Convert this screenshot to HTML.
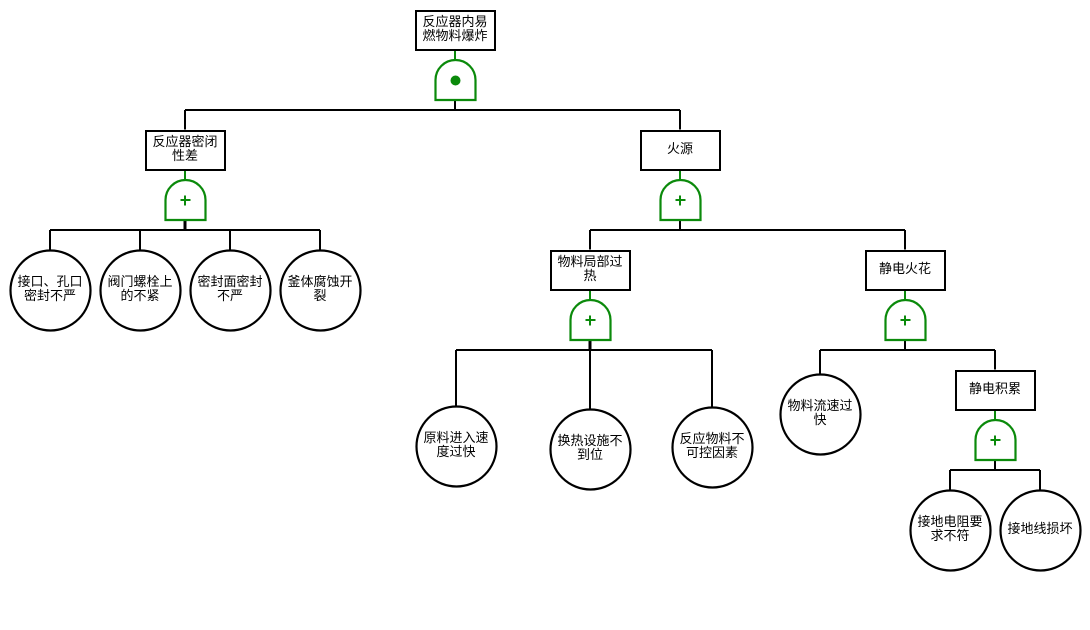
<!DOCTYPE html>
<html lang="zh">
<head>
<meta charset="utf-8">
<style>
html,body{margin:0;padding:0;background:#fff;width:1090px;height:630px;overflow:hidden}
svg{display:block}
text{font-family:"Liberation Sans","WenQuanYi Zen Hei","Noto Sans CJK SC",sans-serif;font-size:13px;fill:#000;text-anchor:middle}
.k{fill:none;stroke:#000;stroke-width:2}
.b{fill:#fff;stroke:#000;stroke-width:2}
.n{fill:#fff;stroke:#000;stroke-width:2.2}
.g{fill:#fff;stroke:#0b8a0b;stroke-width:2.2}
.l{fill:none;stroke:#0b8a0b;stroke-width:2}
.p{fill:none;stroke:#0b8a0b;stroke-width:2}
</style>
</head>
<body>
<svg width="1090" height="630" viewBox="0 0 1090 630" xmlns="http://www.w3.org/2000/svg">
<!-- black connectors -->
<g transform="translate(-0.5,-0.5)">
<path class="k" d="M455.5 100V110.5M185.5 110.5H680.5M185.5 110.5V130M680.5 110.5V130"/>
<path class="k" d="M185.5 220V230.5M50.5 230.5H320.5M50.5 230.5V250M140.5 230.5V250M230.5 230.5V250M320.5 230.5V250"/>
<path class="k" d="M680.5 220V230.5M590.5 230.5H905.5M590.5 230.5V250M905.5 230.5V250"/>
<path class="k" d="M590.5 340V410M456.5 350.5H712.5M456.5 350.5V407M712.5 350.5V407"/>
<path class="k" d="M905.5 340V350.5M820.5 350.5H995.5M820.5 350.5V375M995.5 350.5V370"/>
<path class="k" d="M995.5 460V470.5M950.5 470.5H1040.5M950.5 470.5V490M1040.5 470.5V490"/>
<path d="M185.5 220V230" stroke="#000" stroke-width="3" fill="none"/>
<path d="M590.5 340V350" stroke="#000" stroke-width="3" fill="none"/>
<!-- green connectors -->
<path class="l" d="M455.5 50V60M185.5 170V180M680.5 170V180M590.5 290V300M905.5 290V300M995.5 410V420"/>
</g>
<!-- gates -->
<path class="g" d="M435.5 100V80A20 20 0 0 1 475.5 80V100Z"/>
<circle cx="455.5" cy="80.5" r="5" fill="#0b8a0b"/>
<path class="g" d="M165.5 220V200A20 20 0 0 1 205.5 200V220Z"/>
<path class="p" d="M180.5 200H190.5M185 195.5V205.5"/>
<path class="g" d="M660.5 220V200A20 20 0 0 1 700.5 200V220Z"/>
<path class="p" d="M675.5 200H685.5M680 195.5V205.5"/>
<path class="g" d="M570.5 340V320A20 20 0 0 1 610.5 320V340Z"/>
<path class="p" d="M585.5 320H595.5M590 315.5V325.5"/>
<path class="g" d="M885.5 340V320A20 20 0 0 1 925.5 320V340Z"/>
<path class="p" d="M900.5 320H910.5M905 315.5V325.5"/>
<path class="g" d="M975.5 460V440A20 20 0 0 1 1015.5 440V460Z"/>
<path class="p" d="M990.5 440H1000.5M995 435.5V445.5"/>
<!-- boxes -->
<rect class="b" x="416" y="11" width="79" height="39"/>
<rect class="b" x="146" y="131" width="79" height="39"/>
<rect class="b" x="641" y="131" width="79" height="39"/>
<rect class="b" x="551" y="251" width="79" height="39"/>
<rect class="b" x="866" y="251" width="79" height="39"/>
<rect class="b" x="956" y="371" width="79" height="39"/>
<!-- circles -->
<circle class="n" cx="50.5" cy="290.5" r="40"/>
<circle class="n" cx="140.5" cy="290.5" r="40"/>
<circle class="n" cx="230.5" cy="290.5" r="40"/>
<circle class="n" cx="320.5" cy="290.5" r="40"/>
<circle class="n" cx="456.5" cy="446.5" r="40"/>
<circle class="n" cx="590.5" cy="449.5" r="40"/>
<circle class="n" cx="712.5" cy="447.5" r="40"/>
<circle class="n" cx="820.5" cy="414.5" r="40"/>
<circle class="n" cx="950.5" cy="530.5" r="40"/>
<circle class="n" cx="1040.5" cy="530.5" r="40"/>
<!-- labels -->
<text x="455" y="26">反应器内易</text><text x="455" y="40">燃物料爆炸</text>
<text x="185" y="146">反应器密闭</text><text x="185" y="160">性差</text>
<text x="680" y="153">火源</text>
<text x="590" y="266">物料局部过</text><text x="590" y="280">热</text>
<text x="905" y="273">静电火花</text>
<text x="995" y="393">静电积累</text>
<text x="50" y="286">接口、孔口</text><text x="50" y="300">密封不严</text>
<text x="140" y="286">阀门螺栓上</text><text x="140" y="300">的不紧</text>
<text x="230" y="286">密封面密封</text><text x="230" y="300">不严</text>
<text x="320" y="286">釜体腐蚀开</text><text x="320" y="300">裂</text>
<text x="456" y="442">原料进入速</text><text x="456" y="456">度过快</text>
<text x="590" y="445">换热设施不</text><text x="590" y="459">到位</text>
<text x="712" y="443">反应物料不</text><text x="712" y="457">可控因素</text>
<text x="820" y="410">物料流速过</text><text x="820" y="424">快</text>
<text x="950" y="526">接地电阻要</text><text x="950" y="540">求不符</text>
<text x="1040" y="533">接地线损坏</text>
</svg>
</body>
</html>
